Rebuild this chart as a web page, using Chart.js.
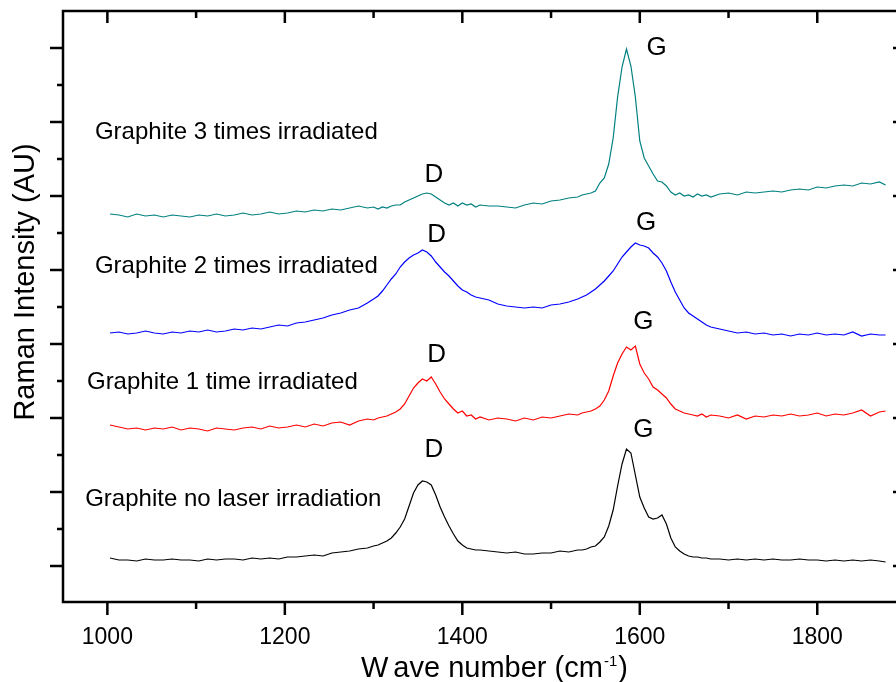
<!DOCTYPE html>
<html>
<head>
<meta charset="utf-8">
<script src="https://cdn.jsdelivr.net/npm/chart.js@4"></script>
<style>
  html, body { margin: 0; padding: 0; background: #fff; overflow: hidden; }
  #wrap { width: 896px; height: 682px; overflow: hidden; }
</style>
</head>
<body>
<div id="wrap"><canvas id="c" width="920" height="682"></canvas></div>
<script>
// wave number grid (cm-1), finer around the D and G bands
var waveNumbers = [
  1003, 1013, 1023, 1033, 1043, 1053, 1063, 1073, 1083, 1093,
  1103, 1113, 1123, 1133, 1143, 1153, 1163, 1173, 1183, 1193,
  1203, 1213, 1223, 1233, 1243, 1253, 1263, 1273, 1283, 1293,
  1300, 1305, 1310, 1315, 1320, 1325, 1330, 1335, 1340, 1345,
  1350, 1355, 1360, 1365, 1370, 1375, 1380, 1385, 1390, 1395,
  1400, 1405, 1410, 1415, 1420,
  1430, 1440, 1450, 1460, 1470, 1480, 1490, 1500, 1510, 1520, 1530,
  1535, 1540, 1545, 1550, 1555, 1560, 1565, 1570, 1575, 1580,
  1585, 1590, 1595, 1600, 1605, 1610, 1615, 1620, 1625, 1630,
  1635, 1640, 1645, 1650, 1655, 1660, 1665, 1670, 1675, 1680,
  1690, 1700, 1710, 1720, 1730, 1740, 1750, 1760, 1770, 1780,
  1790, 1800, 1810, 1820, 1830, 1840, 1850, 1860, 1870, 1877
];

// stacked spectra (AU, offset as in the figure)
var noLaser = [
  8, 6, 6, 5, 7, 6, 6, 7, 6, 6,
  5, 7, 6, 7, 7, 6, 8, 7, 8, 7,
  9, 9, 10, 11, 10, 13, 14, 15, 17, 18,
  20, 21, 23, 25, 28, 33, 39, 47, 60, 73,
  81, 85, 84, 81, 71, 59, 49, 40, 32, 25,
  21, 18, 17, 16, 16,
  15, 14, 13, 14, 12, 12, 13, 13, 15, 14, 16,
  16, 17, 19, 20, 24, 29, 40, 56, 80, 102,
  117, 113, 91, 69, 58, 49, 47, 48, 51, 42,
  28, 19, 15, 12, 10, 9, 9, 8, 8, 7,
  7, 6, 7, 6, 7, 6, 7, 6, 6, 7,
  6, 6, 5, 6, 5, 6, 5, 6, 5, 4
];
var oneTime = [
  141, 139, 137, 138, 136, 138, 137, 139, 136, 138,
  137, 135, 138, 137, 136, 138, 139, 137, 140, 138,
  139, 141, 139, 142, 140, 143, 144, 141, 145, 147,
  146, 148, 149, 150, 152, 154, 157, 162, 170, 178,
  183, 187, 185, 189, 182, 174, 167, 162, 157, 153,
  155, 150, 151, 147, 149,
  146, 148, 147, 145, 148, 146, 149, 148, 150, 152, 151,
  153, 154, 155, 157, 160, 166, 175, 190, 203, 212,
  219, 216, 220, 202, 193, 187, 179, 176, 172, 168,
  162, 157, 155, 153, 152, 151, 150, 152, 149, 151,
  150, 148, 151, 147, 150, 149, 151, 150, 152, 150,
  151, 153, 150, 152, 151, 153, 156, 150, 154, 155
];
var twoTimes = [
  233, 234, 232, 233, 235, 233, 232, 234, 233, 235,
  234, 236, 234, 235, 237, 236, 238, 237, 239, 241,
  240, 243, 244, 246, 248, 251, 253, 256, 258, 263,
  267, 270, 275, 281, 287, 292, 299, 304, 308, 311,
  313, 316, 314, 310, 304, 299, 294, 290, 285, 280,
  276, 274, 271, 269, 268,
  266, 262, 260, 259, 258, 259, 258, 261, 262, 264, 267,
  269, 271, 274, 277, 281, 285, 290, 295, 302, 309,
  314, 319, 323, 321, 320, 318, 313, 309, 303, 295,
  284, 274, 266, 258, 253, 250, 247, 244, 241, 239,
  237, 235, 233, 234, 232, 233, 231, 232, 230, 232,
  231, 233, 231, 232, 231, 234, 230, 232, 231, 231
];
var threeTimes = [
  352, 351, 349, 352, 350, 351, 349, 351, 350, 349,
  351, 350, 352, 350, 351, 353, 351, 352, 354, 352,
  353, 355, 354, 356, 355, 357, 356, 358, 360, 358,
  359, 357, 359, 358, 360, 361, 361, 364, 366, 368,
  370, 372, 373, 372, 369, 366, 363, 361, 363, 360,
  363, 361, 362, 359, 361,
  360, 360, 359, 358, 361, 363, 362, 365, 366, 368, 369,
  371, 372, 373, 375, 383, 388, 402, 428, 469, 499,
  517, 500, 469, 425, 408, 400, 392, 385, 384, 380,
  374, 371, 373, 370, 371, 369, 372, 370, 371, 369,
  372, 373, 371, 374, 373, 374, 375, 374, 376, 377,
  376, 379, 378, 380, 381, 380, 383, 382, 384, 381
];

// axis ticks
var xTickLabels = [1000, 1200, 1400, 1600, 1800];
var xMinorTicks = [1100, 1300, 1500, 1700, 1900];
var yMajorTicks = [0, 74, 148, 222, 296, 370, 444, 518];
var yMinorTicks = [37, 111, 185, 259, 333, 407, 481];

// annotations (data coordinates)
var curveNames = [
  { text: 'Graphite 3 times irradiated', x: 986, y: 427 },
  { text: 'Graphite 2 times irradiated', x: 986, y: 293 },
  { text: 'Graphite 1 time irradiated', x: 977, y: 177 },
  { text: 'Graphite no laser irradiation', x: 975, y: 60 }
];
var bandNames = [
  { text: 'D', x: 1368, y: 384 }, { text: 'G', x: 1619, y: 511 },
  { text: 'D', x: 1371, y: 324 }, { text: 'G', x: 1607, y: 336 },
  { text: 'D', x: 1371, y: 204 }, { text: 'G', x: 1604, y: 237 },
  { text: 'D', x: 1368, y: 109 }, { text: 'G', x: 1604, y: 129 }
];

var FONT = "'Liberation Sans', Arial, sans-serif";

// pair grid with values
function points(values) {
  return waveNumbers.map(function(w, i) { return { x: w, y: values[i] }; });
}

function series(values, color) {
  return {
    data: points(values),
    borderColor: color,
    borderWidth: 1.2,
    pointRadius: 0,
    tension: 0,
    fill: false
  };
}

// frame, tick marks and texts
var framePlugin = {
  id: 'framePlugin',
  afterDraw: function(chart) {
    var ctx = chart.ctx, a = chart.chartArea;
    var x = chart.scales.x, y = chart.scales.y;
    ctx.save();
    ctx.strokeStyle = '#000';
    ctx.lineWidth = 2.5;
    ctx.strokeRect(a.left, a.top, a.right - a.left, a.bottom - a.top);

    ctx.beginPath();
    xTickLabels.forEach(function(v) {
      var p = x.getPixelForValue(v);
      ctx.moveTo(p, a.bottom); ctx.lineTo(p, a.bottom + 13);
      ctx.moveTo(p, a.top); ctx.lineTo(p, a.top + 12);
    });
    xMinorTicks.forEach(function(v) {
      var p = x.getPixelForValue(v);
      ctx.moveTo(p, a.bottom); ctx.lineTo(p, a.bottom + 7);
      ctx.moveTo(p, a.top); ctx.lineTo(p, a.top + 7);
    });
    yMajorTicks.forEach(function(v) {
      var p = y.getPixelForValue(v);
      ctx.moveTo(a.left - 13, p); ctx.lineTo(a.left, p);
      ctx.moveTo(a.right - 13, p); ctx.lineTo(a.right, p);
    });
    yMinorTicks.forEach(function(v) {
      var p = y.getPixelForValue(v);
      ctx.moveTo(a.left - 6, p); ctx.lineTo(a.left, p);
      ctx.moveTo(a.right - 6, p); ctx.lineTo(a.right, p);
    });
    ctx.stroke();

    ctx.fillStyle = '#000';
    ctx.textBaseline = 'alphabetic';

    // curve names
    ctx.font = '24px ' + FONT;
    ctx.textAlign = 'left';
    curveNames.forEach(function(n) {
      ctx.fillText(n.text, x.getPixelForValue(n.x), y.getPixelForValue(n.y));
    });

    // band names
    ctx.font = '26px ' + FONT;
    ctx.textAlign = 'center';
    bandNames.forEach(function(n) {
      ctx.fillText(n.text, x.getPixelForValue(n.x), y.getPixelForValue(n.y));
    });

    // y title
    ctx.save();
    ctx.translate(34, 282);
    ctx.rotate(-Math.PI / 2);
    ctx.font = '29px ' + FONT;
    ctx.textAlign = 'center';
    ctx.fillText('Raman Intensity (AU)', 0, 0);
    ctx.restore();

    // x title with superscript
    ctx.textAlign = 'left';
    var tx = 361, ty = 677;
    ctx.font = '29px ' + FONT;
    ctx.fillText('W', tx, ty);
    tx += ctx.measureText('W').width + 5;
    ctx.fillText('ave number (cm', tx, ty);
    tx += ctx.measureText('ave number (cm').width;
    ctx.font = '15px ' + FONT;
    ctx.fillText('-1', tx + 1, ty - 11);
    tx += ctx.measureText('-1').width + 2;
    ctx.font = '29px ' + FONT;
    ctx.fillText(')', tx, ty);
    ctx.restore();
  }
};

new Chart(document.getElementById('c'), {
  type: 'line',
  data: {
    datasets: [
      series(noLaser, '#000000'),
      series(oneTime, '#ff0000'),
      series(twoTimes, '#0000ff'),
      series(threeTimes, '#008080')
    ]
  },
  options: {
    responsive: false,
    animation: false,
    devicePixelRatio: 1,
    layout: { padding: { top: 11, right: 14, left: 0, bottom: 0 } },
    plugins: { legend: { display: false }, tooltip: { enabled: false } },
    scales: {
      x: {
        type: 'linear',
        position: 'bottom',
        min: 950,
        max: 1900,
        grid: { display: false },
        border: { display: false },
        afterBuildTicks: function(s) {
          s.ticks = xTickLabels.map(function(v) { return { value: v }; });
        },
        ticks: {
          autoSkip: false,
          maxRotation: 0,
          padding: 14,
          color: '#000',
          font: { family: FONT, size: 23 },
          callback: function(v) { return String(v); }
        },
        afterFit: function(s) { s.height = 80; }
      },
      y: {
        type: 'linear',
        min: -36,
        max: 555,
        grid: { display: false },
        border: { display: false },
        ticks: { display: false },
        afterFit: function(s) { s.width = 63; }
      }
    }
  },
  plugins: [framePlugin]
});
</script>
</body>
</html>
